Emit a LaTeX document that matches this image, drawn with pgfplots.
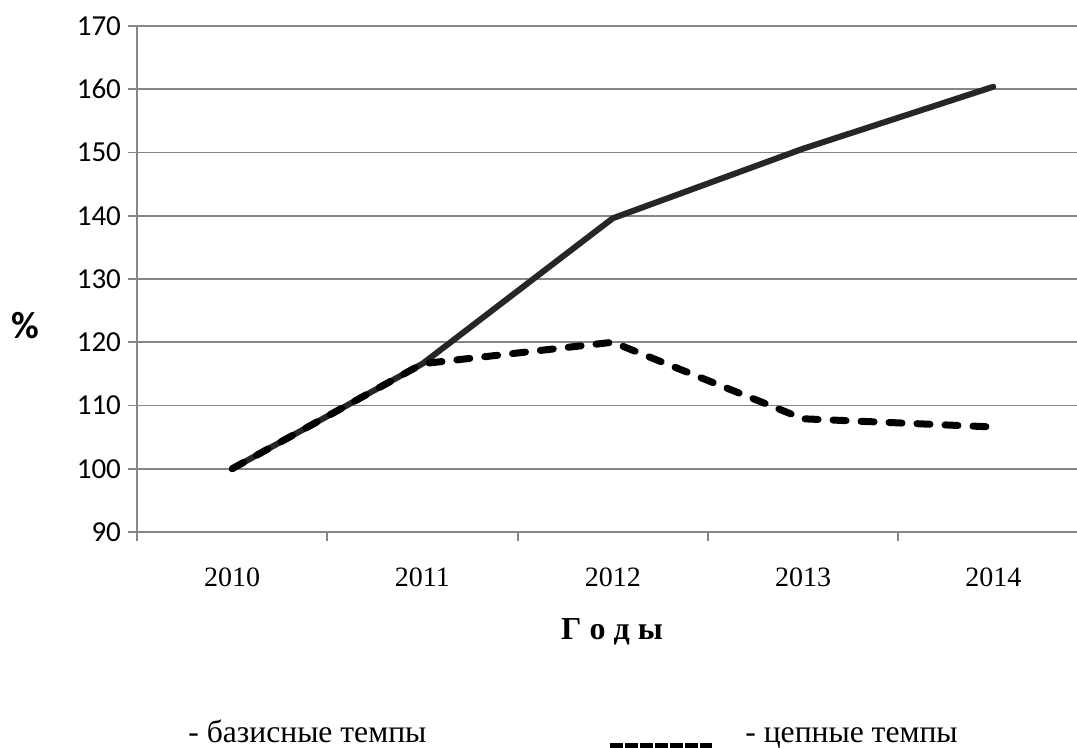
\documentclass[border=0pt]{standalone}
\usepackage{fontspec}
\setmainfont{Liberation Serif}
\newfontfamily\calibri{Carlito}
\usepackage{pgfplots}
\pgfplotsset{compat=1.18}
\definecolor{gridgray}{HTML}{868686}
\definecolor{basis}{HTML}{262626}
\newcommand\yl[1]{{\calibri\fontsize{14.5}{16}\selectfont #1}}
\begin{document}
\begin{tikzpicture}
\path[use as bounding box] (-68.5pt,-108pt) rectangle (470pt,266pt);
\begin{axis}[
  at={(0,0)}, anchor=south west,
  scale only axis, width=470pt, height=253pt,
  xmin=-0.5, xmax=4.4395, ymin=90, ymax=170,
  axis x line=bottom, axis y line=left,
  axis line style={draw=gridgray, line width=0.9pt, -},
  ytick={90,100,...,170},
  yticklabels={\yl{90},\yl{100},\yl{110},\yl{120},\yl{130},\yl{140},\yl{150},\yl{160},\yl{170}},
  ymajorgrids, grid style={draw=gridgray, line width=0.9pt},
  xtick={0,1,2,3,4}, xticklabels={2010,2011,2012,2013,2014},
  minor xtick={-0.5,0.5,1.5,2.5,3.5},
  major x tick style={draw=none},
  minor x tick style={draw=gridgray, line width=0.9pt},
  major y tick style={draw=gridgray, line width=0.9pt},
  tick align=outside, major tick length=4.5pt, minor tick length=4.5pt,
  yticklabel style={anchor=east},
  xticklabel style={font=\fontsize{14}{16}\selectfont, yshift=-10pt},
]
\addplot[basis, line width=3pt, line join=round, line cap=round] coordinates {(0,100) (1,116.6) (2,139.6) (3,150.6) (4,160.4)};
\addplot[black, line width=3.5pt, line cap=round, line join=round, dash pattern=on 6.5pt off 7.5pt] coordinates {(0,100) (1,116.6) (2,120) (3,107.9) (4,106.6)};
\end{axis}
\node at (-56pt,103pt) {\calibri\bfseries\fontsize{19}{21}\selectfont \%};
\node[anchor=base, font=\bfseries\fontsize{16}{18}\selectfont] at (237.5pt,-54pt) {Г о д ы};
\node[anchor=base west, inner sep=0pt, font=\fontsize{15.8}{17}\selectfont] at (25.5pt,-105.3pt) {- базисные темпы};
\draw[black, line width=2.5pt, dash pattern=on 6.5pt off 1pt] (236.5pt,-107pt) -- (287.5pt,-107pt);
\node[anchor=base west, inner sep=0pt, font=\fontsize{15.8}{17}\selectfont] at (304pt,-105.3pt) {- цепные темпы};
\end{tikzpicture}
\end{document}
